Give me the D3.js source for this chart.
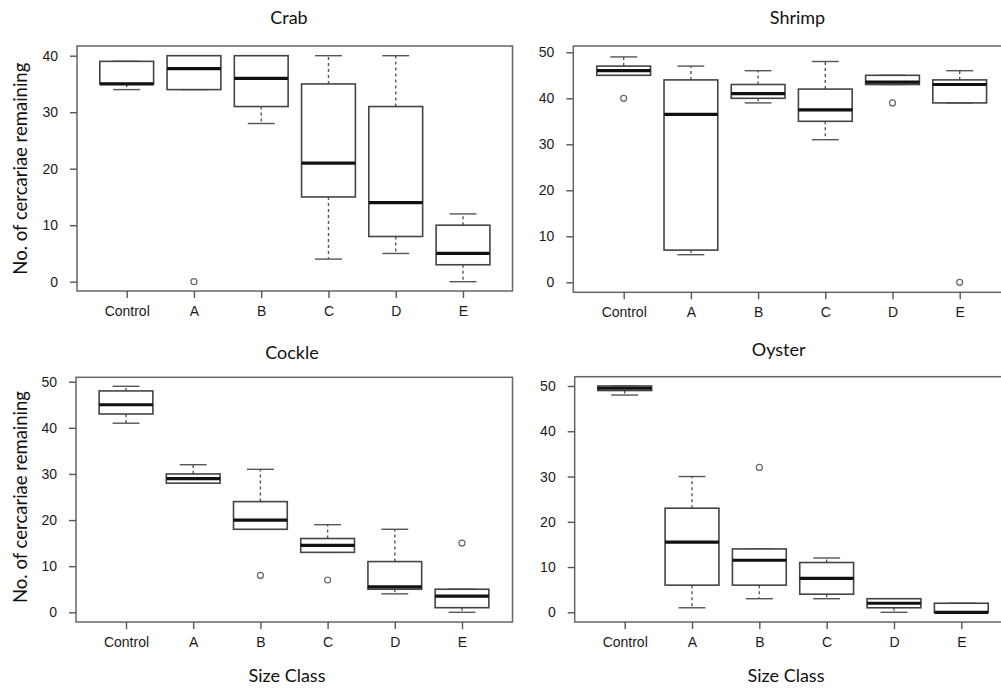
<!DOCTYPE html>
<html>
<head>
<meta charset="utf-8">
<script src="https://cdn.jsdelivr.net/npm/d3@7"></script>
<style>
  html, body { margin: 0; padding: 0; background: #fff; }
  svg { display: block; font-family: Lato, "Open Sans", sans-serif; }
  .tick text { font-size: 14px; fill: #1a1a1a; }
  .tick line { stroke: #555; stroke-width: 1.4; }
</style>
</head>
<body>
<svg id="chart" width="1001" height="690"></svg>
<script>
// Size classes along the x axis
const categories = ["Control", "A", "B", "C", "D", "E"];

// Five-number summaries per size class: [min whisker, Q1, median, Q3, max whisker]
const crabStats = [
  [34, 35, 35, 39, 39],
  [34, 34, 37.7, 40, 40],
  [28, 31, 36, 40, 40],
  [4, 15, 21, 35, 40],
  [5, 8, 14, 31, 40],
  [0, 3, 5, 10, 12]
];
const crabOutliers = [[], [0], [], [], [], []];

const shrimpStats = [
  [45, 45, 46, 47, 49],
  [6, 7, 36.5, 44, 47],
  [39, 40, 41, 43, 46],
  [31, 35, 37.5, 42, 48],
  [43, 43, 43.5, 45, 45],
  [39, 39, 43, 44, 46]
];
const shrimpOutliers = [[40], [], [], [], [39], [0]];

const cockleStats = [
  [41, 43, 45, 48, 49],
  [28, 28, 29, 30, 32],
  [18, 18, 20, 24, 31],
  [13, 13, 14.5, 16, 19],
  [4, 5, 5.5, 11, 18],
  [0, 1, 3.5, 5, 5]
];
const cockleOutliers = [[], [], [8], [7], [], [15]];

const oysterStats = [
  [48, 49, 49.5, 50, 50],
  [1, 6, 15.5, 23, 30],
  [3, 6, 11.5, 14, 14],
  [3, 4, 7.5, 11, 12],
  [0, 1, 2, 3, 3],
  [0, 0, 0, 2, 2]
];
const oysterOutliers = [[], [], [32], [], [], []];

// Y tick values
const crabTicks = [0, 10, 20, 30, 40];
const fiftyTicks = [0, 10, 20, 30, 40, 50];

const yTitle = "No. of cercariae remaining";
const xTitle = "Size Class";

// Panel layout: frame, scale ranges and label positions
const panels = [
  { title: "Crab", stats: crabStats, outliers: crabOutliers, ticks: crabTicks, yMax: 40,
    frame: { l: 77, t: 46, r: 512.5, b: 291 }, y0: 281.7, yTop: 55.7,
    xFirst: 126.7, xLast: 463, titleX: 289, titleY: 24, showY: true, showX: false },
  { title: "Shrimp", stats: shrimpStats, outliers: shrimpOutliers, ticks: fiftyTicks, yMax: 50,
    frame: { l: 573.3, t: 46, r: 1010, b: 292.3 }, y0: 282.3, yTop: 52.3,
    xFirst: 623.7, xLast: 959.7, titleX: 797.5, titleY: 24, showY: false, showX: false },
  { title: "Cockle", stats: cockleStats, outliers: cockleOutliers, ticks: fiftyTicks, yMax: 50,
    frame: { l: 76, t: 377.3, r: 512.5, b: 622 }, y0: 612.3, yTop: 381.7,
    xFirst: 126, xLast: 462, titleX: 292, titleY: 358.5, showY: true, showX: true },
  { title: "Oyster", stats: oysterStats, outliers: oysterOutliers, ticks: fiftyTicks, yMax: 50,
    frame: { l: 574.7, t: 376.7, r: 1010, b: 622 }, y0: 612.3, yTop: 386,
    xFirst: 624.7, xLast: 961.3, titleX: 778.7, titleY: 356, showY: false, showX: true }
];

const svg = d3.select("#chart");

panels.forEach(p => {
  const g = svg.append("g");
  const f = p.frame;

  const x = d3.scalePoint().domain(categories).range([p.xFirst, p.xLast]);
  const y = d3.scaleLinear().domain([0, p.yMax]).range([p.y0, p.yTop]);
  const step = x.step();
  const boxW = step * 0.8;
  const capW = boxW * 0.5;

  // Plot frame
  g.append("rect")
    .attr("x", f.l).attr("y", f.t)
    .attr("width", f.r - f.l).attr("height", f.b - f.t)
    .attr("fill", "none").attr("stroke", "#666").attr("stroke-width", 1.5);

  // Y axis (ticks only, against the frame)
  const ya = g.append("g")
    .attr("transform", `translate(${f.l},0)`)
    .call(d3.axisLeft(y).tickValues(p.ticks).tickSize(7).tickPadding(12).tickFormat(d3.format("d")));
  ya.select(".domain").remove();

  // X axis (ticks only, under the frame)
  const xa = g.append("g")
    .attr("transform", `translate(0,${f.b})`)
    .call(d3.axisBottom(x).tickSize(7).tickPadding(8));
  xa.select(".domain").remove();

  // Boxes
  const boxes = g.selectAll(".box")
    .data(p.stats.map((s, i) => ({ cat: categories[i], s, out: p.outliers[i] })))
    .join("g").attr("class", "box");

  // Whiskers (dashed) from box edges to the caps
  boxes.append("line")
    .attr("x1", d => x(d.cat)).attr("x2", d => x(d.cat))
    .attr("y1", d => y(d.s[3])).attr("y2", d => y(d.s[4]))
    .attr("stroke", "#555").attr("stroke-width", 1.4).attr("stroke-dasharray", "3,3");
  boxes.append("line")
    .attr("x1", d => x(d.cat)).attr("x2", d => x(d.cat))
    .attr("y1", d => y(d.s[1])).attr("y2", d => y(d.s[0]))
    .attr("stroke", "#555").attr("stroke-width", 1.4).attr("stroke-dasharray", "3,3");

  // Whisker caps
  [0, 4].forEach(k => {
    boxes.append("line")
      .attr("x1", d => x(d.cat) - capW / 2).attr("x2", d => x(d.cat) + capW / 2)
      .attr("y1", d => y(d.s[k])).attr("y2", d => y(d.s[k]))
      .attr("stroke", "#555").attr("stroke-width", 1.4);
  });

  // Interquartile box
  boxes.append("rect")
    .attr("x", d => x(d.cat) - boxW / 2)
    .attr("y", d => y(d.s[3]))
    .attr("width", boxW)
    .attr("height", d => y(d.s[1]) - y(d.s[3]))
    .attr("fill", "#fff").attr("stroke", "#444").attr("stroke-width", 1.6);

  // Median
  boxes.append("line")
    .attr("x1", d => x(d.cat) - boxW / 2).attr("x2", d => x(d.cat) + boxW / 2)
    .attr("y1", d => y(d.s[2])).attr("y2", d => y(d.s[2]))
    .attr("stroke", "#111").attr("stroke-width", 3.2);

  // Outliers
  boxes.selectAll("circle")
    .data(d => d.out.map(v => ({ cat: d.cat, v })))
    .join("circle")
    .attr("cx", d => x(d.cat)).attr("cy", d => y(d.v))
    .attr("r", 3)
    .attr("fill", "none").attr("stroke", "#666").attr("stroke-width", 1.2);

  // Panel title
  g.append("text")
    .attr("x", p.titleX).attr("y", p.titleY)
    .attr("text-anchor", "middle")
    .attr("font-size", 18).attr("fill", "#111")
    .text(p.title);

  if (p.showY) {
    const cy = (p.y0 + p.yTop) / 2;
    g.append("text")
      .attr("transform", `translate(27,${cy}) rotate(-90)`)
      .attr("text-anchor", "middle")
      .attr("font-size", 18.5).attr("fill", "#111")
      .text(yTitle);
  }
  if (p.showX) {
    g.append("text")
      .attr("x", (p.xFirst + p.xLast) / 2 - 7).attr("y", 682)
      .attr("text-anchor", "middle")
      .attr("font-size", 18).attr("fill", "#111")
      .text(xTitle);
  }
});
</script>
</body>
</html>
